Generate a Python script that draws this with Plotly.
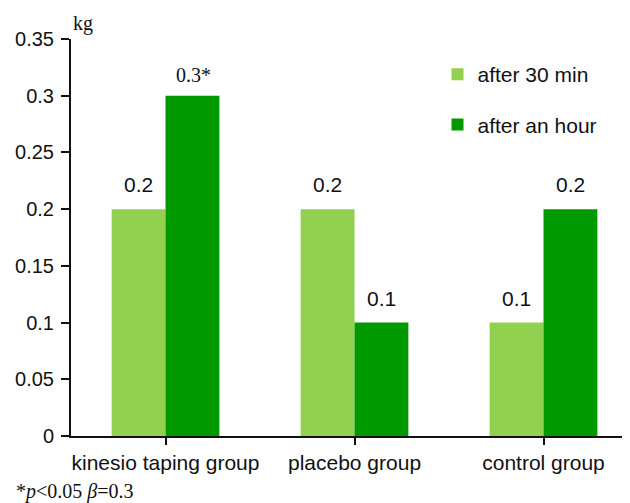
import plotly.graph_objects as go

categories = ["kinesio taping group", "placebo group", "control group"]
after_30 = [0.2, 0.2, 0.1]
after_hour = [0.3, 0.1, 0.2]
labels_30 = ["0.2", "0.2", "0.1"]
labels_hour = ["0.3*", "0.1", "0.2"]
yticks = [0, 0.05, 0.1, 0.15, 0.2, 0.25, 0.3, 0.35]
ytick_text = ["0", "0.05", "0.1", "0.15", "0.2", "0.25", "0.3", "0.35"]

LIGHT = "#92D050"
DARK = "#009900"
SANS = "Liberation Sans, Arial, sans-serif"
SERIF = "Liberation Serif, Times New Roman, serif"

xs = list(range(len(categories)))

fig = go.Figure()
fig.add_trace(go.Bar(x=xs, y=after_30, name="after 30 min", marker_color=LIGHT,
                     marker_line_width=0, legendgroup="a"))
fig.add_trace(go.Bar(x=xs, y=after_hour, name="after an hour", marker_color=DARK,
                     marker_line_width=0, legendgroup="b"))

annotations = []
for i in xs:
    annotations.append(dict(x=i, y=after_30[i], xref="x", yref="y", text=labels_30[i],
                            showarrow=False, xshift=-27, yshift=11, yanchor="bottom",
                            font=dict(family=SANS, size=21, color="#111")))
    serif = "*" in labels_hour[i]
    annotations.append(dict(x=i, y=after_hour[i], xref="x", yref="y", text=labels_hour[i],
                            showarrow=False, xshift=28 if serif else 27,
                            yshift=8 if serif else 11,
                            yanchor="bottom",
                            font=dict(family=SERIF if serif else SANS,
                                      size=20 if serif else 21, color="#111")))

annotations.append(dict(x=0, y=1, xref="paper", yref="paper", text="kg", showarrow=False,
                        xanchor="left", yanchor="bottom", xshift=0, yshift=2,
                        font=dict(family=SERIF, size=20, color="#111")))
annotations.append(dict(x=0, y=0, xref="paper", yref="paper",
                        text="*<i>p</i><0.05 <i>β</i>=0.3", showarrow=False,
                        xanchor="left", yanchor="bottom", xshift=-57, yshift=-69,
                        font=dict(family=SERIF, size=20, color="#111")))

# page body adds an 8px offset; margins compensate so the plot lands where the reference has it
fig.update_layout(
    width=630, height=503,
    margin=dict(l=63, r=10, t=31, b=75),
    paper_bgcolor="white", plot_bgcolor="white",
    barmode="group", bargap=0.43, bargroupgap=0,
    showlegend=True,
    legend=dict(x=0.658, y=0.962, xanchor="left", yanchor="top",
                font=dict(family=SANS, size=21, color="#111"),
                tracegroupgap=20, traceorder="grouped", bgcolor="rgba(0,0,0,0)"),
    annotations=annotations,
    xaxis=dict(range=[-0.5, 2.447], tickmode="array", tickvals=xs, ticktext=categories,
               tickson="boundaries", ticks="outside", ticklen=7, tickwidth=2,
               tickcolor="#111", showline=True, linecolor="#111", linewidth=2,
               showgrid=False, zeroline=False, automargin=False,
               tickfont=dict(family=SANS, size=21, color="#111")),
    yaxis=dict(range=[0, 0.35], tickmode="array", tickvals=yticks, ticktext=ytick_text,
               ticks="outside", ticklen=8, tickwidth=2, tickcolor="#111",
               ticklabelstandoff=3,
               showline=True, linecolor="#111", linewidth=2, showgrid=False,
               zeroline=False, automargin=False,
               tickfont=dict(family=SANS, size=20, color="#111")),
)

fig.write_html("out.html")
